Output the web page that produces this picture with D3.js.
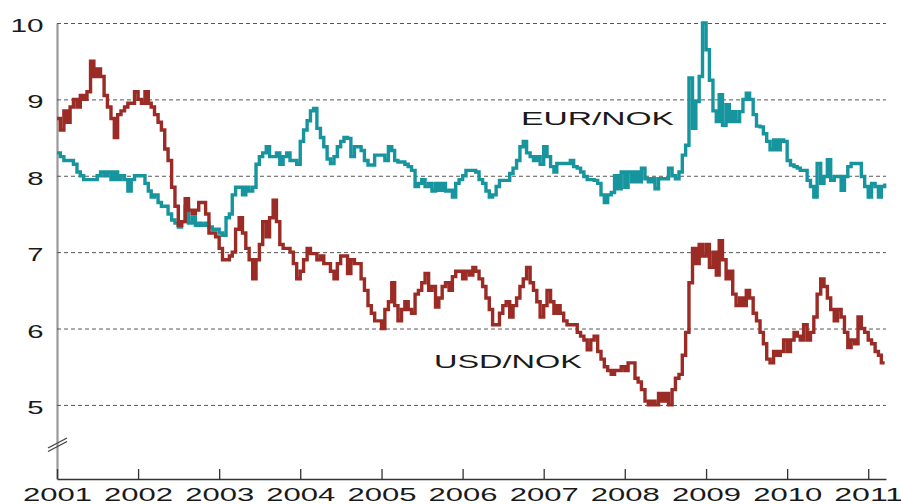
<!DOCTYPE html>
<html>
<head>
<meta charset="utf-8">
<script src="https://cdn.jsdelivr.net/npm/d3@7"></script>
<style>
  body { margin: 0; background: #fff; }
  text { font-family: "Liberation Sans", Arial, sans-serif; }
</style>
</head>
<body>
<svg id="chart" width="901" height="504"></svg>
<script>
// half-monthly readings (1st and 16th of each month), starting Jan 2001
const usdNok = [
  8.75, 8.6, 8.85, 8.7, 8.9, 9.0, 8.9, 9.05, 9.0, 9.1, 9.5, 9.3, 9.4, 9.3, 9.05, 8.9, 8.75, 8.5, 8.8, 8.85, 8.9, 8.95, 8.95, 9.1, // 2001
  9.0, 8.95, 9.1, 8.95, 8.9, 8.8, 8.7, 8.6, 8.35, 8.2, 7.85, 7.6, 7.35, 7.4, 7.7, 7.55, 7.5, 7.55, 7.65, 7.65, 7.5, 7.25, 7.25, 7.2, // 2002
  7.05, 6.9, 6.9, 6.95, 7.0, 7.3, 7.45, 7.25, 7.05, 6.9, 6.65, 6.9, 7.1, 7.4, 7.2, 7.45, 7.68, 7.4, 7.1, 7.05, 7.05, 7.0, 6.85, 6.65, // 2003
  6.75, 6.9, 7.05, 6.98, 6.98, 6.9, 6.95, 6.85, 6.85, 6.75, 6.65, 6.85, 6.95, 6.95, 6.72, 6.9, 6.85, 6.85, 6.65, 6.5, 6.3, 6.2, 6.1, 6.1, // 2004
  6.0, 6.25, 6.35, 6.6, 6.3, 6.1, 6.25, 6.35, 6.25, 6.2, 6.45, 6.5, 6.6, 6.72, 6.5, 6.55, 6.28, 6.4, 6.55, 6.6, 6.5, 6.68, 6.75, 6.75, // 2005
  6.65, 6.75, 6.7, 6.8, 6.75, 6.65, 6.55, 6.4, 6.25, 6.05, 6.05, 6.2, 6.3, 6.35, 6.15, 6.3, 6.4, 6.55, 6.65, 6.8, 6.6, 6.5, 6.35, 6.15, // 2006
  6.3, 6.5, 6.35, 6.2, 6.3, 6.2, 6.1, 6.05, 6.05, 6.05, 5.95, 5.9, 5.85, 5.72, 5.85, 5.9, 5.7, 5.6, 5.5, 5.45, 5.4, 5.45, 5.45, 5.5, // 2007
  5.45, 5.55, 5.55, 5.35, 5.3, 5.2, 5.05, 5.0, 5.05, 5.0, 5.15, 5.05, 5.15, 5.0, 5.2, 5.35, 5.4, 5.65, 5.95, 6.6, 7.05, 6.85, 7.1, 6.95, // 2008
  7.1, 6.8, 7.0, 6.7, 7.15, 6.9, 6.65, 6.75, 6.45, 6.3, 6.4, 6.3, 6.5, 6.4, 6.2, 6.1, 5.95, 5.8, 5.6, 5.55, 5.7, 5.65, 5.7, 5.85, // 2009
  5.7, 5.85, 5.95, 5.9, 5.85, 6.05, 5.85, 5.95, 6.15, 6.45, 6.65, 6.55, 6.4, 6.25, 6.1, 6.25, 6.15, 5.95, 5.75, 5.85, 5.8, 6.15, 6.0, 5.95, // 2010
  5.85, 5.8, 5.7, 5.65, 5.55, 5.55 // 2011
];

const eurNok = [
  8.3, 8.25, 8.2, 8.2, 8.2, 8.15, 8.05, 8.0, 7.95, 7.95, 7.95, 7.95, 8.0, 8.05, 8.0, 8.05, 7.95, 8.05, 7.95, 8.0, 7.95, 7.8, 7.95, 8.0, // 2001
  8.0, 8.0, 7.9, 7.8, 7.72, 7.75, 7.65, 7.6, 7.6, 7.5, 7.42, 7.38, 7.33, 7.4, 7.6, 7.38, 7.45, 7.35, 7.38, 7.35, 7.38, 7.33, 7.3, 7.3, // 2002
  7.25, 7.22, 7.45, 7.5, 7.75, 7.85, 7.85, 7.75, 7.85, 7.8, 7.85, 8.15, 8.25, 8.3, 8.38, 8.25, 8.25, 8.3, 8.15, 8.25, 8.3, 8.2, 8.2, 8.15, // 2003
  8.45, 8.6, 8.72, 8.85, 8.88, 8.62, 8.5, 8.38, 8.22, 8.16, 8.25, 8.38, 8.45, 8.5, 8.49, 8.25, 8.38, 8.38, 8.33, 8.2, 8.14, 8.14, 8.27, 8.27, // 2004
  8.27, 8.2, 8.38, 8.33, 8.2, 8.18, 8.18, 8.15, 8.12, 8.07, 7.86, 7.9, 7.95, 7.86, 7.9, 7.8, 7.9, 7.81, 7.9, 7.8, 7.81, 7.72, 7.9, 7.95, // 2005
  8.0, 8.07, 8.07, 8.07, 8.05, 7.95, 7.9, 7.8, 7.72, 7.75, 7.86, 7.94, 7.94, 7.94, 8.03, 8.1, 8.2, 8.38, 8.45, 8.3, 8.25, 8.2, 8.25, 8.15, // 2006
  8.38, 8.25, 8.12, 8.05, 8.16, 8.16, 8.16, 8.16, 8.2, 8.12, 8.1, 8.05, 7.99, 7.95, 7.95, 7.94, 7.9, 7.75, 7.65, 7.75, 7.78, 8.0, 7.83, 8.05, // 2007
  7.85, 8.05, 7.92, 8.05, 7.92, 8.1, 7.96, 7.92, 7.96, 7.83, 7.96, 7.96, 7.96, 8.1, 8.0, 7.96, 8.05, 8.27, 8.4, 9.28, 8.62, 8.97, 9.3, 10.0, // 2008
  9.65, 9.25, 8.85, 8.71, 9.06, 8.66, 8.93, 8.71, 8.84, 8.71, 8.84, 9.0, 9.08, 9.0, 8.8, 8.65, 8.64, 8.55, 8.45, 8.34, 8.47, 8.34, 8.47, 8.45, // 2009
  8.2, 8.14, 8.12, 8.1, 8.07, 8.07, 7.94, 7.86, 7.72, 8.16, 7.9, 7.99, 8.21, 7.94, 7.99, 7.99, 7.81, 7.99, 8.12, 8.16, 8.16, 8.16, 7.99, 7.86, // 2010
  7.72, 7.9, 7.86, 7.72, 7.86, 7.9 // 2011
];

const yTicks = [5, 6, 7, 8, 9, 10];
const yearTicks = [2001, 2002, 2003, 2004, 2005, 2006, 2007, 2008, 2009, 2010, 2011];
const seriesNames = ["EUR/NOK", "USD/NOK"];

const startYear = 2001;
const toPoints = vals => vals.map((v, i) => ({
  date: new Date(startYear + Math.floor(i / 24), Math.floor((i % 24) / 2), i % 2 ? 16 : 1),
  v: v
}));

const svg = d3.select("#chart");
const plotL = 57, plotR = 886, plotT = 23, plotB = 479;

const x = d3.scaleTime()
  .domain([new Date(2001, 0, 1), new Date(2011, 2, 22)])
  .range([plotL, plotR]);

const y = d3.scaleLinear()
  .domain([4.03, 10])
  .range([plotB, plotT]);

const fontSize = 18.5;
const charW = 16.8; // text in the picture is stretched sideways

// y axis: labels + dashed gridlines
const yAxis = svg.append("g")
  .attr("transform", `translate(${plotL},0)`)
  .call(d3.axisLeft(y)
    .tickValues(yTicks)
    .tickFormat(d3.format("d"))
    .tickSizeInner(-(plotR - plotL))
    .tickSizeOuter(0)
    .tickPadding(13.5));

yAxis.select(".domain").attr("stroke", "#9a9a9a").attr("stroke-width", 2.2);
yAxis.selectAll(".tick line")
  .attr("stroke", "#555")
  .attr("stroke-width", 1)
  .attr("stroke-dasharray", "4,3");
yAxis.selectAll(".tick text")
  .attr("font-size", fontSize)
  .attr("fill", "#1a1a1a")
  .attr("dy", "0.46em")
  .attr("textLength", d => String(d).length * charW - 0.5)
  .attr("lengthAdjust", "spacingAndGlyphs");

// x axis
const xAxis = svg.append("g")
  .attr("transform", `translate(0,${plotB})`)
  .call(d3.axisBottom(x)
    .tickValues(yearTicks.map(yr => new Date(yr, 0, 1)))
    .tickFormat(d3.timeFormat("%Y"))
    .tickSizeInner(-10)
    .tickSizeOuter(0));

xAxis.select(".domain").attr("stroke", "#333").attr("stroke-width", 1.6);
xAxis.selectAll(".tick line").attr("stroke", "#333").attr("stroke-width", 1.3);
xAxis.selectAll(".tick text")
  .attr("font-size", fontSize)
  .attr("fill", "#1a1a1a")
  .attr("y", 22)
  .attr("dy", 0)
  .attr("textLength", 69)
  .attr("lengthAdjust", "spacingAndGlyphs");

// axis break mark
const brk = svg.append("g").attr("stroke", "#444").attr("stroke-width", 1.4);
[0, 3.5].forEach(off => {
  brk.append("line")
    .attr("x1", plotL - 9).attr("y1", 448 + off)
    .attr("x2", plotL + 10).attr("y2", 438 + off);
});

// series
const line = d3.line()
  .x(d => x(d.date))
  .y(d => y(d.v))
  .curve(d3.curveStepAfter);

svg.append("path")
  .datum(toPoints(eurNok))
  .attr("fill", "none")
  .attr("stroke", "#17959f")
  .attr("stroke-width", 3.4)
  .attr("d", line);

svg.append("path")
  .datum(toPoints(usdNok))
  .attr("fill", "none")
  .attr("stroke", "#9b2b25")
  .attr("stroke-width", 3.4)
  .attr("d", line);

// series labels
svg.append("text")
  .attr("x", 521).attr("y", 125)
  .attr("font-size", fontSize).attr("fill", "#1a1a1a")
  .attr("textLength", 153).attr("lengthAdjust", "spacingAndGlyphs")
  .text(seriesNames[0]);

svg.append("text")
  .attr("x", 434).attr("y", 368)
  .attr("font-size", fontSize).attr("fill", "#1a1a1a")
  .attr("textLength", 148).attr("lengthAdjust", "spacingAndGlyphs")
  .text(seriesNames[1]);
</script>
</body>
</html>
